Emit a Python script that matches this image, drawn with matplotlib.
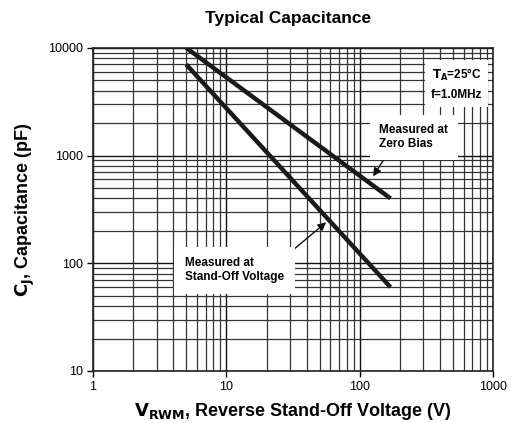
import matplotlib
matplotlib.use("Agg")
import matplotlib.pyplot as plt
import numpy as np
from matplotlib.ticker import LogLocator, FixedLocator, NullFormatter

plt.rcParams['font.family'] = ['Liberation Sans', 'DejaVu Sans']

# Data
v_zero = [5, 170]
c_zero = [10000, 400]
v_standoff = [5, 170]
c_standoff = [7000, 60]

xticks = [1, 10, 100, 1000]
yticks = [10, 100, 1000, 10000]

fig = plt.figure(figsize=(5.11, 4.23), dpi=100)
ax = fig.add_axes([0.182, 0.123, 0.783, 0.764])
ax.set_xscale('log')
ax.set_yscale('log')
ax.set_xlim(1, 1000)
ax.set_ylim(10, 10000)

ax.xaxis.set_major_locator(FixedLocator(xticks))
ax.yaxis.set_major_locator(FixedLocator(yticks))
ax.set_xticklabels([str(t) for t in xticks])
ax.set_yticklabels([str(t) for t in yticks])
ax.xaxis.set_minor_locator(LogLocator(base=10, subs=np.arange(2, 10)))
ax.yaxis.set_minor_locator(LogLocator(base=10, subs=np.arange(2, 10)))
ax.xaxis.set_minor_formatter(NullFormatter())
ax.yaxis.set_minor_formatter(NullFormatter())
ax.tick_params(which='minor', length=0)
ax.tick_params(which='major', length=4, width=1, labelsize=9, pad=3)
ax.grid(True, which='major', color='#111111', linewidth=1.0)
ax.grid(True, which='minor', color='#333333', linewidth=0.9)
ax.set_axisbelow(True)
for s in ax.spines.values():
    s.set_linewidth(1.2)
    s.set_color('#222222')

ax.plot(v_zero, c_zero, color='#1a1a1a', linewidth=3.2, solid_capstyle='butt', zorder=5)
ax.plot(v_standoff, c_standoff, color='#1a1a1a', linewidth=3.2, solid_capstyle='butt', zorder=5)

bbox = dict(boxstyle='square,pad=0.5', facecolor='white', edgecolor='none')
ax.text(0.972, 0.94, '$\\mathbf{T_A}$=25°C\nf=1.0MHz', transform=ax.transAxes,
        ha='right', va='top', fontsize=8.5, fontweight='bold', linespacing=1.6,
        bbox=bbox, zorder=6)

ax.annotate('Measured at\nZero Bias', xy=(126, 640), xytext=(140, 1480),
            ha='left', va='center', fontsize=8.5, fontweight='bold', linespacing=1.2,
            bbox=dict(boxstyle='square,pad=0.8', facecolor='white', edgecolor='none'),
            arrowprops=dict(arrowstyle='-|>', color='#111111', lw=1.0,
                            shrinkA=0, shrinkB=0, mutation_scale=12,
                            relpos=(0.15, 0.0)),
            zorder=6)

ax.annotate('Measured at\nStand-Off Voltage', xy=(56, 240), xytext=(4.9, 86),
            ha='left', va='center', fontsize=8.5, fontweight='bold', linespacing=1.2,
            bbox=dict(boxstyle='square,pad=0.9', facecolor='white', edgecolor='none'),
            arrowprops=dict(arrowstyle='-|>', color='#111111', lw=1.0,
                            shrinkA=0, shrinkB=0, mutation_scale=12,
                            relpos=(1.0, 1.0)),
            zorder=6)

fig.text(0.564, 0.957, 'Typical Capacitance', ha='center', va='center',
         fontsize=12.5, fontweight='bold')
ax.set_xlabel('$\\mathbf{V_{RWM}}$, Reverse Stand-Off Voltage (V)', fontsize=13,
              fontweight='bold', labelpad=6)
ax.set_ylabel('$\\mathbf{C_J}$, Capacitance (pF)', fontsize=13, fontweight='bold', labelpad=8)

fig.savefig('out.png', dpi=100)
